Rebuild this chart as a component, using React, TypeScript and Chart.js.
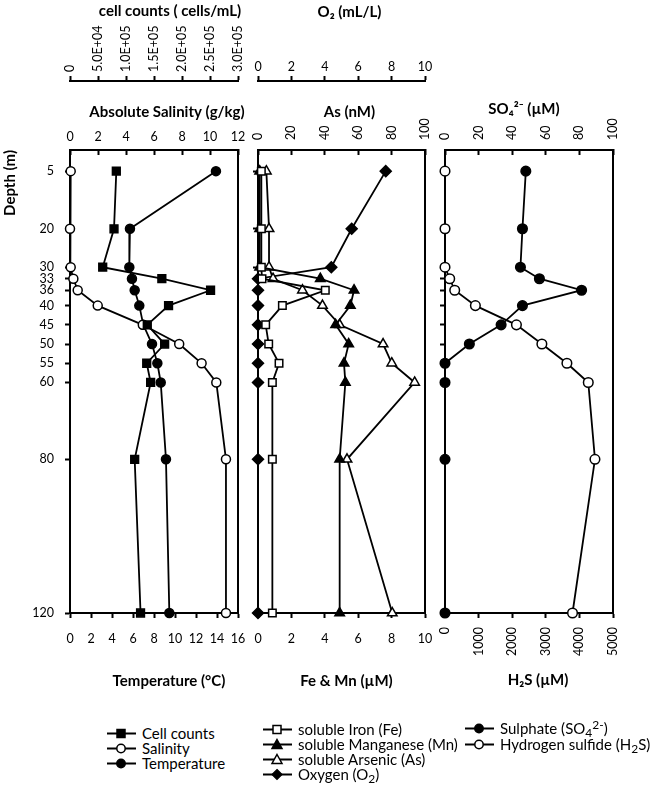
import React, { useEffect, useRef } from 'react';
import { Chart, registerables } from 'chart.js';
Chart.register(...registerables);

// ---------- data ----------
const depths = [5, 20, 30, 33, 36, 40, 45, 50, 55, 60, 80, 120];
const cellCounts = [82700, 78600, 58400, 164000, 251000, 176000, 138000, 169000, 137000, 144000, 115500, 126000];
const salinity = [0.05, 0, 0.05, 0.24, 0.55, 1.98, 5.2, 7.8, 9.4, 10.45, 11.14, 11.14];
const temperature = [13.9, 5.71, 5.65, 5.9, 6.16, 6.6, 6.98, 7.81, 8.32, 8.64, 9.14, 9.46];
const iron = [0.2, 0.2, 0.2, 0.24, 4.03, 1.46, 0.46, 0.64, 1.26, 0.86, 0.86, 0.86];
const manganese = [0.1, 0.1, 0.1, 3.73, 5.75, 5.53, 4.65, 5.43, 5.15, 5.23, 4.89, 4.89];
const arsenic = [5.0, 6.6, 6.6, 9.0, 26.6, 38.6, 48.9, 74.9, 80.1, 93.8, 53.3, 80.4];
const oxygen = [7.65, 5.61, 4.39, 0, 0, 0, 0, 0, 0, 0, 0, 0];
const sulphate = [48.1, 46.1, 44.9, 56.2, 81.3, 46.1, 33.4, 14.5, 0, 0, 0, 0];
const h2s = [0, 0, 0, 140, 289, 904, 2126, 2883, 3628, 4264, 4463, 3795];

const labels1 = ['Cell counts', 'Salinity', 'Temperature'];
const labels2 = ['soluble Iron (Fe)', 'soluble Manganese (Mn)', 'soluble Arsenic (As)', 'Oxygen (O₂)'];
const labels3 = ['Sulphate (SO₄²⁻)', 'Hydrogen sulfide (H₂S)'];

// ---------- styles ----------
const FONT = 'Lato';
Chart.defaults.font.family = FONT;
const TICK_SIZE = 12.5;
const tickFont = { family: FONT, size: TICK_SIZE };
const titleFont = { family: FONT, size: 15, weight: 'bold' as const };

const cellFmt = (v: number) => {
  if (v === 0) return '0';
  const [m, e] = v.toExponential(1).toUpperCase().split('E');
  return `${m}E${e[0]}${e.slice(1).padStart(2, '0')}`;
};

type HAxis = {
  position: 'top' | 'bottom';
  min: number; max: number; step: number; weight: number; height: number;
  tickLen: number; tickPad: number; rotate: boolean;
  fmt?: (v: number) => string;
};

function hAxis(o: HAxis) {
  // rotated labels on a top axis are drawn one line-height left of their tick; shift them back
  const labelOffset = o.rotate && o.position === 'top' ? TICK_SIZE * 1.2 : 0;
  return {
    type: 'linear',
    position: o.position,
    min: o.min, max: o.max, weight: o.weight,
    ticks: {
      stepSize: o.step, autoSkip: false,
      maxRotation: o.rotate ? 90 : 0, minRotation: o.rotate ? 90 : 0,
      padding: o.tickPad, labelOffset, color: '#000', font: tickFont,
      callback: (v: any) => (o.fmt ? o.fmt(Number(v)) : String(v)),
    },
    grid: { drawOnChartArea: false, drawTicks: true, tickLength: o.tickLen, tickWidth: 2, tickColor: '#000', color: '#000' },
    border: { display: true, color: '#000', width: 2 },
    title: { display: false },
    afterFit: (s: any) => { s.height = o.height; },
  };
}

function yAxis(width: number, showLabels: boolean) {
  return {
    type: 'linear', position: 'left', reverse: true, min: -0.5, max: 120, weight: 0,
    afterBuildTicks: (s: any) => { s.ticks = depths.map((v) => ({ value: v })); },
    ticks: { display: showLabels, autoSkip: false, padding: 11, color: '#000', font: tickFont, callback: (v: any) => String(v) },
    grid: { drawOnChartArea: false, drawTicks: true, tickLength: 5, tickWidth: 2, tickColor: '#000', color: '#000' },
    border: { display: true, color: '#000', width: 2 },
    title: { display: false },
    afterFit: (s: any) => { s.width = width; },
  };
}

// outer left scale that only carries the "Depth (m)" title, aligned to the top
function yTitleAxis(width: number) {
  return {
    type: 'linear', position: 'left', min: -0.5, max: 120, weight: 1,
    ticks: { display: false },
    grid: { display: false, drawTicks: false },
    border: { display: false },
    title: { display: true, text: 'Depth (m)', align: 'end', color: '#000', font: titleFont, padding: { top: 1, bottom: 0 } },
    afterFit: (s: any) => { s.width = width; },
  };
}

function ds(label: string, xs: number[], xAxisID: string, pointStyle: string, filled: boolean, r: number) {
  return {
    label,
    data: depths.map((d, i) => ({ x: xs[i], y: d })),
    xAxisID, yAxisID: 'y',
    showLine: true, borderColor: '#000', borderWidth: 1.8, tension: 0, fill: false,
    pointStyle, pointRadius: r, pointHoverRadius: r,
    pointBackgroundColor: filled ? '#000' : '#fff', pointBorderColor: '#000', pointBorderWidth: 1.5,
    clip: false,
  };
}

const boxPlugin = {
  id: 'box',
  beforeDatasetsDraw(chart: any) {
    const { ctx, chartArea: a } = chart;
    ctx.save();
    ctx.strokeStyle = '#000';
    ctx.lineWidth = 2;
    ctx.strokeRect(a.left, a.top, a.right - a.left, a.bottom - a.top);
    ctx.restore();
  },
};

// axis titles, centred on their scale with a small horizontal shift as in the original figure
type AxisTitle = { scale: string; text: string; dx: number; y: number };
function axisTitlePlugin(items: AxisTitle[]) {
  return {
    id: 'axisTitles',
    afterDraw(chart: any) {
      const { ctx } = chart;
      ctx.save();
      ctx.fillStyle = '#000';
      ctx.font = `bold ${titleFont.size}px ${FONT}`;
      ctx.textAlign = 'center';
      ctx.textBaseline = 'middle';
      for (const t of items) {
        const s = chart.scales[t.scale];
        ctx.fillText(t.text, (s.left + s.right) / 2 + t.dx, t.y);
      }
      ctx.restore();
    },
  };
}

function baseOptions(scales: any, padRight: number) {
  return {
    responsive: false, maintainAspectRatio: false, animation: false, devicePixelRatio: 1,
    events: [],
    layout: { padding: { left: 0, top: 0, right: padRight, bottom: 0 }, autoPadding: false },
    plugins: { legend: { display: false }, tooltip: { enabled: false }, title: { display: false } },
    scales,
  };
}

const H = 700;
const PAD = 35;

function panel1() {
  return {
    type: 'scatter',
    data: {
      datasets: [
        ds(labels1[0], cellCounts, 'xCell', 'rect', true, 5.5),
        ds(labels1[1], salinity, 'xSal', 'circle', false, 4.5),
        ds(labels1[2], temperature, 'x', 'circle', true, 4.5),
      ],
    },
    options: baseOptions({
      yTitle: yTitleAxis(17),
      y: yAxis(53, true),
      xCell: hAxis({ position: 'top', min: 0, max: 300000, step: 50000, weight: 1, height: 81, tickLen: 5, tickPad: 4, rotate: true, fmt: cellFmt }),
      xSal: hAxis({ position: 'top', min: 0, max: 12, step: 2, weight: 0, height: 69, tickLen: -5, tickPad: 11, rotate: false }),
      x: hAxis({ position: 'bottom', min: 0, max: 16, step: 2, weight: 0, height: 87, tickLen: 5, tickPad: 13, rotate: false }),
    }, PAD),
    plugins: [boxPlugin, axisTitlePlugin([
      { scale: 'xCell', text: 'cell counts ( cells/mL)', dx: 16, y: 11 },
      { scale: 'xSal', text: 'Absolute Salinity (g/kg)', dx: 13, y: 112 },
      { scale: 'x', text: 'Temperature (°C)', dx: 15, y: 681 },
    ])],
  };
}

function panel2() {
  return {
    type: 'scatter',
    data: {
      datasets: [
        ds(labels2[0], iron, 'x', 'rect', false, 5.3),
        ds(labels2[1], manganese, 'x', 'triangle', true, 5.5),
        ds(labels2[2], arsenic, 'xAs', 'triangle', false, 5.5),
        ds(labels2[3], oxygen, 'xO2', 'rectRot', true, 5.5),
      ],
    },
    options: baseOptions({
      y: yAxis(PAD, false),
      xO2: hAxis({ position: 'top', min: 0, max: 10, step: 2, weight: 1, height: 81, tickLen: 5, tickPad: 2, rotate: false }),
      xAs: hAxis({ position: 'top', min: 0, max: 100, step: 20, weight: 0, height: 69, tickLen: -5, tickPad: 15, rotate: true }),
      x: hAxis({ position: 'bottom', min: 0, max: 10, step: 2, weight: 0, height: 87, tickLen: 5, tickPad: 13, rotate: false }),
    }, PAD),
    plugins: [boxPlugin, axisTitlePlugin([
      { scale: 'xO2', text: 'O₂ (mL/L)', dx: 8, y: 12 },
      { scale: 'xAs', text: 'As (nM)', dx: 8, y: 112 },
      { scale: 'x', text: 'Fe & Mn (µM)', dx: 5, y: 681 },
    ])],
  };
}

function panel3() {
  return {
    type: 'scatter',
    data: {
      datasets: [
        ds(labels3[0], sulphate, 'xSO4', 'circle', true, 4.8),
        ds(labels3[1], h2s, 'x', 'circle', false, 4.8),
      ],
    },
    options: baseOptions({
      y: yAxis(PAD, false),
      xSO4: hAxis({ position: 'top', min: 0, max: 100, step: 20, weight: 0, height: 150, tickLen: -5, tickPad: 15, rotate: true }),
      x: hAxis({ position: 'bottom', min: 0, max: 5000, step: 1000, weight: 0, height: 87, tickLen: 5, tickPad: 9, rotate: true }),
    }, PAD),
    plugins: [boxPlugin, axisTitlePlugin([
      { scale: 'xSO4', text: 'SO₄²⁻ (µM)', dx: -5, y: 109 },
      { scale: 'x', text: 'H₂S (µM)', dx: 9, y: 680 },
    ])],
  };
}

function ChartPanel({ left, width, build }: { left: number; width: number; build: () => any }) {
  const ref = useRef<HTMLCanvasElement>(null);
  useEffect(() => {
    const chart = new Chart(ref.current as HTMLCanvasElement, build());
    return () => chart.destroy();
  }, []);
  return (
    <canvas
      ref={ref}
      width={width}
      height={H}
      style={{ position: 'absolute', left, top: 0, width, height: H, display: 'block' }}
    />
  );
}

// ---------- legend ----------
function Icon({ shape, filled }: { shape: string; filled: boolean }) {
  const fill = filled ? '#000' : '#fff';
  let m: React.ReactNode = null;
  if (shape === 'rect') m = <rect x={10} y={2.5} width={8} height={8} fill={fill} stroke="#000" strokeWidth={1.5} />;
  if (shape === 'circle') m = <circle cx={14} cy={6.5} r={4.2} fill={fill} stroke="#000" strokeWidth={1.5} />;
  if (shape === 'triangle') m = <polygon points="14,1.5 19,10.5 9,10.5" fill={fill} stroke="#000" strokeWidth={1.5} />;
  if (shape === 'rectRot') m = <polygon points="14,1.5 19,6.5 14,11.5 9,6.5" fill={fill} stroke="#000" strokeWidth={1.2} />;
  return (
    <svg width={29} height={13} style={{ display: 'block' }}>
      <line x1={0} y1={6.5} x2={29} y2={6.5} stroke="#000" strokeWidth={2} />
      {m}
    </svg>
  );
}

function LegendRow({ x, y, shape, filled, children }: any) {
  return (
    <div style={{ position: 'absolute', left: x, top: y - 9, height: 18, display: 'flex', alignItems: 'center', whiteSpace: 'nowrap', fontFamily: FONT, fontSize: 15, color: '#000' }}>
      <Icon shape={shape} filled={filled} />
      <span style={{ marginLeft: 6 }}>{children}</span>
    </div>
  );
}

const subStyle: React.CSSProperties = { fontSize: '0.8em', verticalAlign: '-0.25em', lineHeight: 0 };
const supStyle: React.CSSProperties = { fontSize: '0.8em', verticalAlign: '0.4em', lineHeight: 0 };

export default function App() {
  return (
    <div style={{ position: 'absolute', left: 0, top: 0, width: 650, height: 786, background: '#fff', overflow: 'hidden' }}>
      <ChartPanel left={0} width={238 + PAD} build={panel1} />
      <ChartPanel left={258 - PAD} width={425 - 258 + 2 * PAD} build={panel2} />
      <ChartPanel left={445 - PAD} width={613 - 445 + 2 * PAD} build={panel3} />

      <LegendRow x={107} y={733} shape="rect" filled>{labels1[0]}</LegendRow>
      <LegendRow x={107} y={748} shape="circle" filled={false}>{labels1[1]}</LegendRow>
      <LegendRow x={107} y={763} shape="circle" filled>{labels1[2]}</LegendRow>

      <LegendRow x={263} y={729} shape="rect" filled={false}>{labels2[0]}</LegendRow>
      <LegendRow x={263} y={744} shape="triangle" filled>{labels2[1]}</LegendRow>
      <LegendRow x={263} y={759} shape="triangle" filled={false}>{labels2[2]}</LegendRow>
      <LegendRow x={263} y={774} shape="rectRot" filled>Oxygen (O<span style={subStyle}>2</span>)</LegendRow>

      <LegendRow x={465} y={728} shape="circle" filled>Sulphate (SO<span style={subStyle}>4</span><span style={supStyle}>2-</span>)</LegendRow>
      <LegendRow x={465} y={744} shape="circle" filled={false}>Hydrogen sulfide (H<span style={subStyle}>2</span>S)</LegendRow>
    </div>
  );
}
